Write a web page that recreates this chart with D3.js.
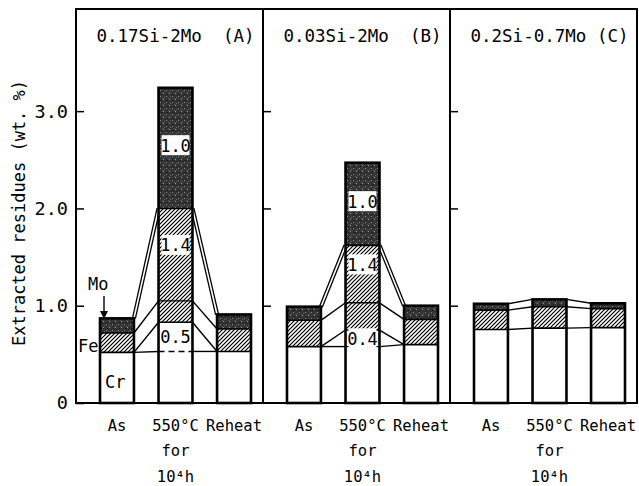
<!DOCTYPE html>
<html>
<head>
<meta charset="utf-8">
<script src="https://cdn.jsdelivr.net/npm/d3@7"></script>
<style>
  body { margin: 0; background: #fff; }
  text { font-family: "DejaVu Sans Mono", "Liberation Mono", monospace; fill: #000; white-space: pre; }
</style>
</head>
<body>
<div id="chart"></div>
<script>
// 패널 / 조건
const panels = ["0.17Si-2Mo  (A)", "0.03Si-2Mo  (B)", "0.2Si-0.7Mo (C)"];
const conditions = ["As", "550°C", "Reheat"];
const condLabels = [["As"], ["550°C", "for", "10⁴h"], ["Reheat"]];

// 누적 상단값 (wt.%) : Cr, Cr+Fe, Cr+Fe+Mo
const crTop = [[0.52, 0.83, 0.53], [0.58, 0.75, 0.60], [0.755, 0.77, 0.775]];
const feTop = [[0.72, 2.00, 0.76], [0.85, 1.62, 0.86], [0.955, 0.99, 0.97]];
const moTop = [[0.87, 3.24, 0.91], [0.99, 2.47, 1.00], [1.02, 1.065, 1.025]];

// 550°C 막대 안의 이전 Cr / Fe 수준선
const agedInner = [[0.53, 1.05], [0.58, 1.03], null];
// 550°C 막대 라벨 (Cr, Fe, Mo 증가분)
const agedLabels = [["0.5", "1.4", "1.0"], ["0.4", "1.4", "1.0"], null];

const yTicks = [0, 1, 2, 3];

const width = 639, height = 486;
const svg = d3.select("#chart").append("svg")
	.attr("width", width)
	.attr("height", height);

const defs = svg.append("defs");

// Fe 빗금
const hatch = defs.append("pattern")
	.attr("id", "hatch")
	.attr("patternUnits", "userSpaceOnUse")
	.attr("width", 4).attr("height", 4);
hatch.append("rect").attr("width", 4).attr("height", 4).attr("fill", "#fff");
hatch.append("path")
	.attr("d", "M-1,1 l2,-2 M0,4 l4,-4 M3,5 l2,-2")
	.attr("stroke", "#000").attr("stroke-width", 1.2);

// Mo 점묘 (어두운 회색)
const stip = defs.append("pattern")
	.attr("id", "stipple")
	.attr("patternUnits", "userSpaceOnUse")
	.attr("width", 6).attr("height", 6);
stip.append("rect").attr("width", 6).attr("height", 6).attr("fill", "#333");
[[0, 0, "#888"], [3, 3, "#999"], [1, 4, "#111"], [4, 1, "#666"], [2, 2, "#555"], [5, 5, "#222"]]
	.forEach(([px, py, c]) => stip.append("rect")
		.attr("x", px).attr("y", py).attr("width", 1).attr("height", 1).attr("fill", c));

const y = d3.scaleLinear().domain([0, 4.05]).range([403, 9]);
const xPanel = d3.scaleBand().domain(panels).range([76, 637]);
const xBar = d3.scaleBand().domain(conditions).range([24, 175]).paddingInner(0.42);
const bw = xBar.bandwidth();

// 프레임
svg.append("rect")
	.attr("x", 76).attr("y", y(4.05))
	.attr("width", 637 - 76).attr("height", y(0) - y(4.05))
	.attr("fill", "none").attr("stroke", "#000").attr("stroke-width", 2);

// 왼쪽 y축
const yAxis = svg.append("g")
	.attr("transform", "translate(76,0)")
	.call(d3.axisLeft(y).tickValues(yTicks).tickSize(-8).tickPadding(8)
		.tickFormat(d => d === 0 ? "0" : d3.format(".1f")(d)));
yAxis.select(".domain").remove();
yAxis.selectAll("line").attr("stroke-width", 1.5);
yAxis.selectAll("text").style("font-size", "18.5px")
	.style("font-family", "'DejaVu Sans Mono', monospace");

svg.append("text")
	.attr("transform", "translate(25,213) rotate(-90)")
	.attr("text-anchor", "middle")
	.style("font-size", "17px")
	.text("Extracted residues (wt. %)");

function seg(g, i0, v0, i1, v1, dbl) {
	const x0 = xBar(conditions[i0]) + bw, x1 = xBar(conditions[i1]);
	if (dbl) {
		g.append("line").attr("x1", x0).attr("y1", y(v0)).attr("x2", x1).attr("y2", y(v1))
			.attr("stroke", "#000").attr("stroke-width", 4.2);
		g.append("line").attr("x1", x0).attr("y1", y(v0)).attr("x2", x1).attr("y2", y(v1))
			.attr("stroke", "#fff").attr("stroke-width", 1.6);
	} else {
		g.append("line").attr("x1", x0).attr("y1", y(v0)).attr("x2", x1).attr("y2", y(v1))
			.attr("stroke", "#000").attr("stroke-width", 1.4);
	}
}

panels.forEach((p, pi) => {
	const g = svg.append("g").attr("transform", `translate(${xPanel(p)},0)`);

	if (pi > 0) {
		g.append("line").attr("x1", 0).attr("x2", 0)
			.attr("y1", y(4.05)).attr("y2", y(0))
			.attr("stroke", "#000").attr("stroke-width", 2);
		const ax = g.append("g").call(d3.axisRight(y).tickValues(yTicks.slice(1)).tickSize(8).tickFormat(""));
		ax.select(".domain").remove();
		ax.selectAll("line").attr("stroke-width", 1.5);
	}

	g.append("text")
		.attr("x", xPanel.bandwidth() / 2 + 6).attr("y", 42)
		.attr("text-anchor", "middle")
		.style("font-size", "17.5px")
		.text(p);

	// 연결선
	const cr = crTop[pi], fe = feTop[pi], mo = moTop[pi], inner = agedInner[pi];
	if (inner) {
		seg(g, 0, cr[0], 1, inner[0]);
		seg(g, 0, cr[0], 1, cr[1]);
		seg(g, 0, fe[0], 1, inner[1]);
		seg(g, 0, mo[0], 1, fe[1], true);
		seg(g, 1, inner[0], 2, cr[2]);
		seg(g, 1, cr[1], 2, cr[2]);
		seg(g, 1, inner[1], 2, fe[2]);
		seg(g, 1, fe[1], 2, mo[2], true);
	} else {
		[0, 1].forEach(i => {
			seg(g, i, cr[i], i + 1, cr[i + 1]);
			seg(g, i, fe[i], i + 1, fe[i + 1]);
			seg(g, i, mo[i], i + 1, mo[i + 1]);
		});
	}

	// 막대
	conditions.forEach((c, i) => {
		const bx = xBar(c);
		const layers = [[0, cr[i], "#fff"], [cr[i], fe[i], "url(#hatch)"], [fe[i], mo[i], "url(#stipple)"]];
		g.selectAll(null).data(layers).join("rect")
			.attr("x", bx).attr("width", bw)
			.attr("y", d => y(d[1])).attr("height", d => y(d[0]) - y(d[1]))
			.attr("fill", d => d[2]);
		[cr[i], fe[i]].forEach(v => g.append("line")
			.attr("x1", bx).attr("x2", bx + bw).attr("y1", y(v)).attr("y2", y(v))
			.attr("stroke", "#000").attr("stroke-width", 1.6));
		if (i === 1 && inner) {
			inner.forEach((v, k) => g.append("line")
				.attr("x1", bx).attr("x2", bx + bw).attr("y1", y(v)).attr("y2", y(v))
				.attr("stroke", "#000").attr("stroke-width", 1.4)
				.attr("stroke-dasharray", pi === 0 && k === 0 ? "6,4" : null));
		}
		g.append("rect")
			.attr("x", bx).attr("width", bw)
			.attr("y", y(mo[i])).attr("height", y(0) - y(mo[i]))
			.attr("fill", "none").attr("stroke", "#000").attr("stroke-width", 2.6);

		// 550°C 라벨
		if (i === 1 && agedLabels[pi]) {
			const mids = [(inner[0] + cr[i]) / 2, (inner[1] + fe[i]) / 2 + 0.1, (fe[i] + mo[i]) / 2 + 0.03];
			agedLabels[pi].forEach((t, k) => {
				const cy = y(mids[k]);
				g.append("rect")
					.attr("x", bx + bw / 2 - 14).attr("y", cy - 10)
					.attr("width", 28).attr("height", 20).attr("fill", "#fff");
				g.append("text")
					.attr("x", bx + bw / 2).attr("y", cy + 6.5)
					.attr("text-anchor", "middle")
					.style("font-size", "17px")
					.text(t);
			});
		}

		// x 라벨
		condLabels[i].forEach((t, k) => g.append("text")
			.attr("x", bx + bw / 2).attr("y", [431, 456, 482][k])
			.attr("text-anchor", "middle")
			.style("font-size", "15.5px")
			.text(t));
	});
});

// 성분 표시 (A 패널)
svg.append("text").attr("x", 88).attr("y", 290).style("font-size", "17px").text("Mo");
svg.append("text").attr("x", 78).attr("y", 352).style("font-size", "17px").text("Fe");
svg.append("text").attr("x", 105).attr("y", 388).style("font-size", "17px").text("Cr");
svg.append("line").attr("x1", 104).attr("x2", 104).attr("y1", 296).attr("y2", 314)
	.attr("stroke", "#000").attr("stroke-width", 1.4);
svg.append("path").attr("d", "M100,311 L104,319 L108,311 Z").attr("fill", "#000");
</script>
</body>
</html>
